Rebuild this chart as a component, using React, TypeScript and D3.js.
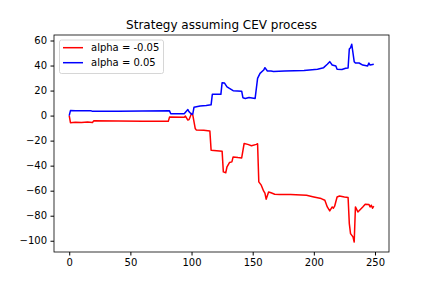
import * as d3 from "d3";
import { useEffect, useRef } from "react";

// values (step index, strategy value)
const redX = [0, 1, 5, 10, 15, 19, 20, 40, 60, 81, 82, 94, 95, 97, 98, 100, 101, 103, 104, 110, 115, 116, 125, 126, 128, 129, 131, 133, 134, 138, 141, 143, 146, 149, 153, 154, 155, 157, 159, 160, 161, 163, 165, 168, 172, 181, 194, 200, 206, 209, 211, 213, 215, 216, 217, 219, 221, 225, 228, 229, 230, 232, 233, 234, 236, 238, 240, 242, 245, 246, 247, 248, 249];
const redY = [0, -5.7, -5.4, -5.6, -5.2, -5.5, -4.2, -4.3, -4.5, -4.6, -1.2, -1.3, -0.4, -3.6, -3.2, 1.7, 0.5, -10.3, -11.6, -11.8, -12.4, -27.6, -28.4, -45, -45.6, -40.9, -37.5, -37, -33, -33.5, -33.8, -22.3, -23, -24.1, -23, -22.5, -53, -55.6, -60.4, -62, -66.8, -61, -61.7, -62.8, -63, -63, -63.6, -65, -66.3, -67.6, -73, -76.2, -73, -74, -72.4, -65, -64.2, -65, -65.5, -86.3, -94.3, -96.9, -101, -73, -77, -75, -73, -70.8, -71, -73, -71.6, -74, -72.4];

const blueX = [0, 1, 5, 10, 18, 19, 40, 60, 82, 83, 94, 97, 98, 100, 101, 102, 107, 112, 116, 117, 124, 125, 127, 129, 131, 134, 141, 142, 144, 147, 152, 154, 156, 159, 160, 162, 165, 167, 176, 192, 203, 208, 211, 213, 215, 218, 219, 223, 226, 228, 229, 230, 231, 233, 234, 237, 240, 244, 245, 246, 249];
const blueY = [0, 4, 3.8, 3.9, 3.8, 3.4, 3.5, 3.6, 3.8, 1.5, 1.5, 4.8, 3, 1, 1.2, 6.6, 7.6, 8, 8.6, 17, 17, 26.3, 26, 23, 21.7, 19.9, 19.5, 14.3, 13.7, 14.5, 13.7, 29.7, 33.7, 36.4, 38.3, 35.6, 35.6, 35.3, 35.6, 36.1, 37, 38.3, 41, 43.1, 40.4, 39.7, 37, 36.8, 37.8, 38, 53.2, 54.3, 57, 43.1, 42, 42, 40.4, 39.7, 42, 40.4, 41];

const xTicks = [0, 50, 100, 150, 200, 250];
const yTicks = [-100, -80, -60, -40, -20, 0, 20, 40, 60];
const labels = ["alpha = -0.05", "alpha = 0.05"];
const colors = ["#ff0000", "#0000ff"];

const width = 432, height = 288;
const left = 54, right = 389, top = 35, bottom = 252;
const font = "DejaVu Sans";

export default function App() {
  const gx = useRef<SVGGElement>(null);
  const gy = useRef<SVGGElement>(null);

  const x = d3.scaleLinear([-12.45, 261.45], [left, right]);
  const y = d3.scaleLinear([-109, 64.4], [bottom, top]);
  const fmt = (d: number) => (d < 0 ? "\u2212" + Math.abs(d) : String(d));

  const line = d3.line<[number, number]>().x(d => x(d[0])).y(d => y(d[1]));
  const red = redX.map((v, i) => [v, redY[i]] as [number, number]);
  const blue = blueX.map((v, i) => [v, blueY[i]] as [number, number]);

  useEffect(() => {
    const ax = d3.select(gx.current!);
    ax.call(d3.axisBottom(x).tickValues(xTicks).tickSize(3.5).tickPadding(3.5).tickFormat(d => fmt(+d)));
    ax.select(".domain").remove();
    ax.selectAll("text").attr("font-family", font).attr("font-size", 10).attr("fill", "#000");
    const ay = d3.select(gy.current!);
    ay.call(d3.axisLeft(y).tickValues(yTicks).tickSize(3.5).tickPadding(3.5).tickFormat(d => fmt(+d)));
    ay.select(".domain").remove();
    ay.selectAll("text").attr("font-family", font).attr("font-size", 10).attr("fill", "#000");
  }, []);

  return (
    <svg width={width} height={height} style={{ position: "absolute", left: 0, top: 0, background: "#fff" }}>
      <rect x={0} y={0} width={width} height={height} fill="#fff" />
      <defs>
        <clipPath id="plot">
          <rect x={left} y={top} width={right - left} height={bottom - top} />
        </clipPath>
      </defs>
      <g clipPath="url(#plot)">
        <path d={line(red)!} fill="none" stroke={colors[0]} strokeWidth={1.5} strokeLinejoin="round" />
        <path d={line(blue)!} fill="none" stroke={colors[1]} strokeWidth={1.5} strokeLinejoin="round" />
      </g>
      <rect x={left} y={top} width={right - left} height={bottom - top} fill="none" stroke="#000" strokeWidth={0.8} />
      <g ref={gx} transform={`translate(0,${bottom})`} />
      <g ref={gy} transform={`translate(${left},0)`} />
      <text x={(left + right) / 2} y={29} textAnchor="middle" fontFamily={font} fontSize={12}>
        Strategy assuming CEV process
      </text>
      <g>
        <rect x={59.5} y={40} width={104} height={33.5} rx={2} fill="#fff" fillOpacity={0.8} stroke="#cccccc" strokeWidth={0.8} />
        {labels.map((l, i) => (
          <g key={l} transform={`translate(0,${47.7 + i * 15})`}>
            <line x1={63} x2={83} y1={0} y2={0} stroke={colors[i]} strokeWidth={1.5} />
            <text x={91} y={0} dy="0.35em" fontFamily={font} fontSize={10}>{l}</text>
          </g>
        ))}
      </g>
    </svg>
  );
}
